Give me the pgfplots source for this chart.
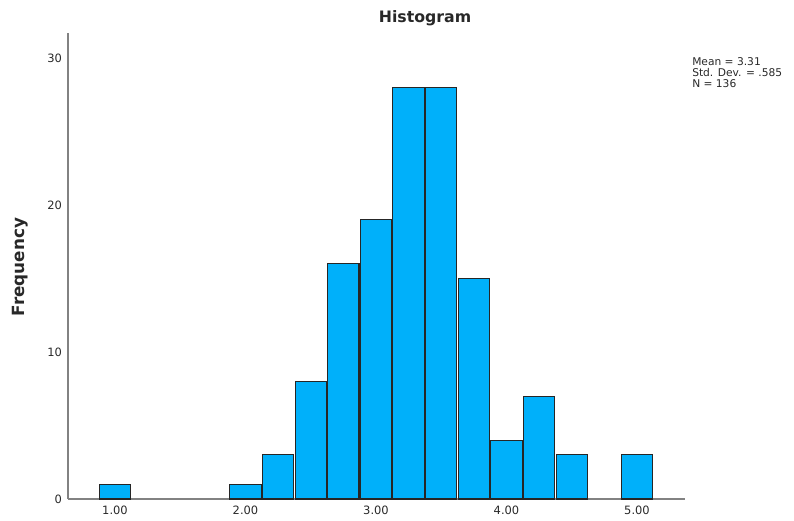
\documentclass[border=0pt]{standalone}
\usepackage{fontspec}
\setmainfont{DejaVu Sans}
\usepackage{pgfplots}
\pgfplotsset{compat=1.18}
\definecolor{barblue}{RGB}{0,176,250}
\definecolor{axgray}{RGB}{130,130,130}
\definecolor{txt}{RGB}{40,40,40}
\begin{document}
\begin{tikzpicture}
\useasboundingbox (0,0) rectangle (595.5pt,390.75pt);
\begin{axis}[
  at={(51pt,16.5pt)}, anchor=south west,
  scale only axis, width=462.75pt, height=349.5pt,
  xmin=0.640, xmax=5.368, ymin=0, ymax=31.7,
  axis x line=bottom, axis y line=left,
  axis line style={axgray, line width=0.9pt, -},
  major tick length=0pt,
  xtick={1,2,3,4,5},
  xticklabels={1.00,2.00,3.00,4.00,5.00},
  ytick={0,10,20,30},
  ticklabel style={font=\fontsize{8.6}{10}\selectfont, text=txt},
  /pgf/number format/assume math mode=true,
  xticklabel style={yshift=-2pt},
  yticklabel style={xshift=-1pt},
  clip=false,
]
\addplot[ybar, bar width=0.24, bar shift=0pt, fill=barblue, draw=black!85, line width=0.8pt]
coordinates {
(1.00,1) (2.00,1) (2.25,3) (2.50,8) (2.75,16) (3.00,19) (3.25,28)
(3.50,28) (3.75,15) (4.00,4) (4.25,7) (4.50,3) (5.00,3)
};
\end{axis}
\node[font=\bfseries\fontsize{11.8}{13}\selectfont, text=txt] at (318.75pt,377.25pt) {Histogram};
\node[font=\bfseries\fontsize{12.6}{14}\selectfont, text=txt, rotate=90] at (15pt,190.5pt) {Frequency};
\node[anchor=north west, font=\fontsize{8}{8.3}\selectfont, text=txt, align=left, inner sep=0pt] at (519pt,348pt) {Mean = 3.31\\Std. Dev. = .585\\N = 136};
\end{tikzpicture}
\end{document}
